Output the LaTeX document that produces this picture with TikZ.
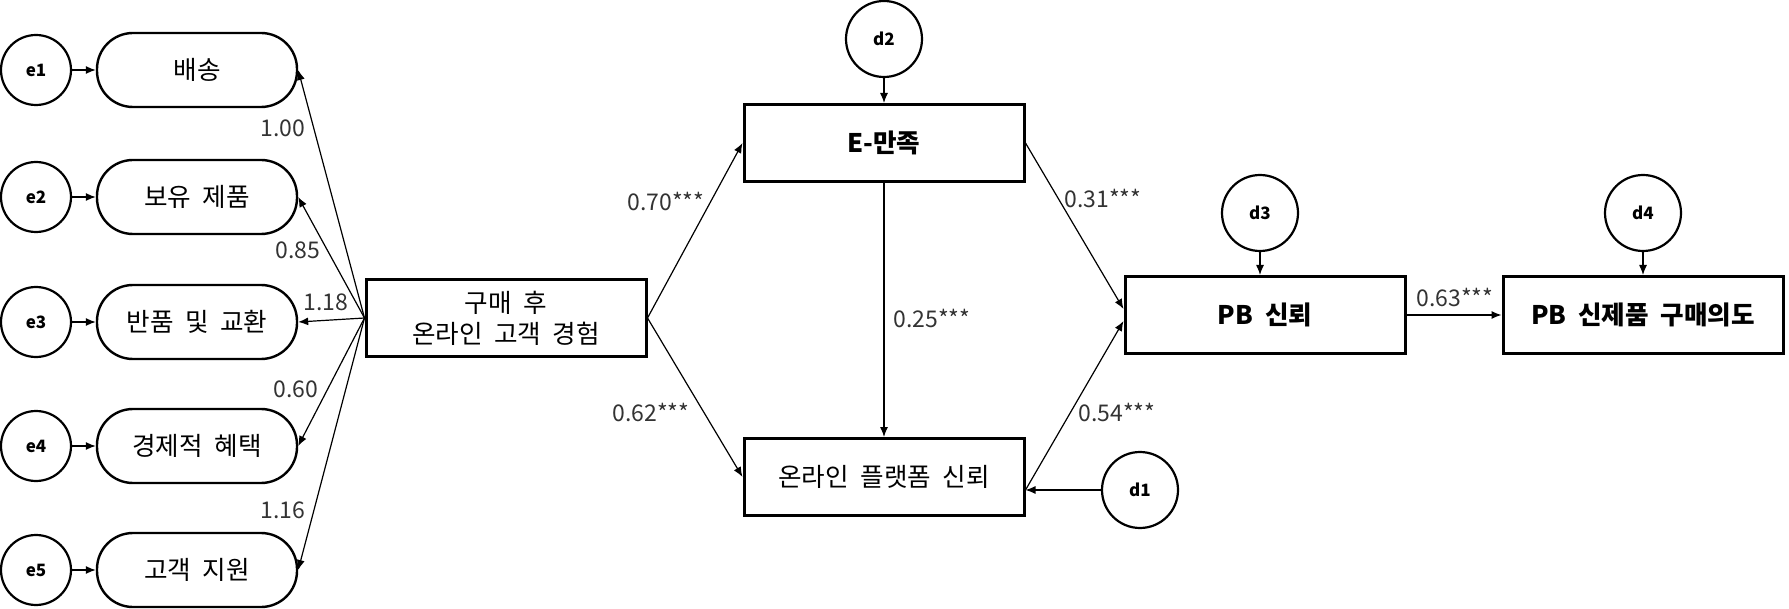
\documentclass[tikz,border=0pt]{standalone}
\usepackage{fontspec}
\setmainfont{Noto Sans CJK KR}
\usetikzlibrary{arrows.meta, positioning, calc}

\begin{document}
\begin{tikzpicture}[
    x=0.5pt, y=-0.5pt,
    obs/.style={draw, line width=1.2pt, rounded corners=18pt, minimum width=100pt, minimum height=37pt,
                inner sep=0pt, font=\fontsize{12.8}{14}\selectfont},
    box/.style={draw, line width=1.5pt, minimum width=140pt, minimum height=38.5pt, inner sep=0pt,
                align=center, font=\fontsize{12.8}{15.5}\selectfont},
    err/.style={draw, circle, line width=1.1pt, minimum size=35pt, inner sep=0pt,
                font=\fontsize{8.5}{10}\selectfont\bfseries},
    dis/.style={err, minimum size=38pt},
    val/.style={inner sep=0pt, text=black!80, font=\fontsize{11.5}{13}\selectfont},
    arrow/.style={-{Latex[length=5pt,width=4pt]}, line width=0.6pt},
]
\useasboundingbox (0,0) rectangle (1789,609);

% ===== 측정 변수 =====
\node[err] (e1) at (36, 70)  {e1};
\node[err] (e2) at (36, 197) {e2};
\node[err] (e3) at (36, 322) {e3};
\node[err] (e4) at (36, 446) {e4};
\node[err] (e5) at (36, 570) {e5};
\node[obs] (m1) at (197, 70)  {배송};
\node[obs] (m2) at (197, 197) {보유\ \ 제품};
\node[obs] (m3) at (197, 322) {반품\ \ 및\ \ 교환};
\node[obs] (m4) at (197, 446) {경제적\ \ 혜택};
\node[obs] (m5) at (197, 570) {고객\ \ 지원};

% ===== 잠재 변수 =====
\node[box] (cx)    at (506, 318) {구매\ \ 후\\온라인\ \ 고객\ \ 경험};
\node[box] (esat)  at (884, 143) {\bfseries E-만족};
\node[box] (plat)  at (884, 477) {온라인\ \ 플랫폼\ \ 신뢰};
\node[box] (pbtr)  at (1265, 315) {\bfseries PB\ \ 신뢰};
\node[box] (pbint) at (1643, 315) {\bfseries PB\ \ 신제품\ \ 구매의도};

% ===== 오차항 =====
\node[dis] (d2) at (884, 39)   {d2};
\node[dis] (d1) at (1140, 490) {d1};
\node[dis] (d3) at (1260, 213) {d3};
\node[dis] (d4) at (1643, 213) {d4};

% ===== 경로 =====
\foreach \i in {1,...,5} {
    \draw[arrow] (e\i) -- (m\i);
    \draw[arrow] (cx.west) -- (m\i.east);
}
\draw[arrow] (cx.east)   -- (esat.west);
\draw[arrow] (cx.east)   -- (plat.west);
\draw[arrow] (esat)      -- (plat);
\draw[arrow] (d2)        -- (esat);
\draw[arrow] (d1)        -- (d1 -| plat.east);
\draw[arrow] (esat.east) -- ([yshift=3pt]pbtr.west);
\draw[arrow] (d1 -| plat.east) -- ([yshift=-3pt]pbtr.west);
\draw[arrow] (d3)        -- (d3 |- pbtr.north);
\draw[arrow] (d4)        -- (d4 |- pbint.north);
\draw[arrow] (pbtr)      -- (pbint);

% ===== 경로 계수 =====
\node[val] (l1)  at (283, 128)  {1.00};
\node[val] (l2)  at (298, 250)  {0.85};
\node[val] (l3)  at (326, 302)  {1.18};
\node[val] (l4)  at (296, 389)  {0.60};
\node[val] (l5)  at (283, 510)  {1.16};
\node[val] (l6)  at (666, 201)  {0.70***};
\node[val] (l7)  at (651, 412)  {0.62***};
\node[val] (l8)  at (932, 318)  {0.25***};
\node[val] (l9)  at (1103, 198) {0.31***};
\node[val] (l10) at (1117, 412) {0.54***};
\node[val] (l11) at (1455, 297) {0.63***};
\end{tikzpicture}
\end{document}
